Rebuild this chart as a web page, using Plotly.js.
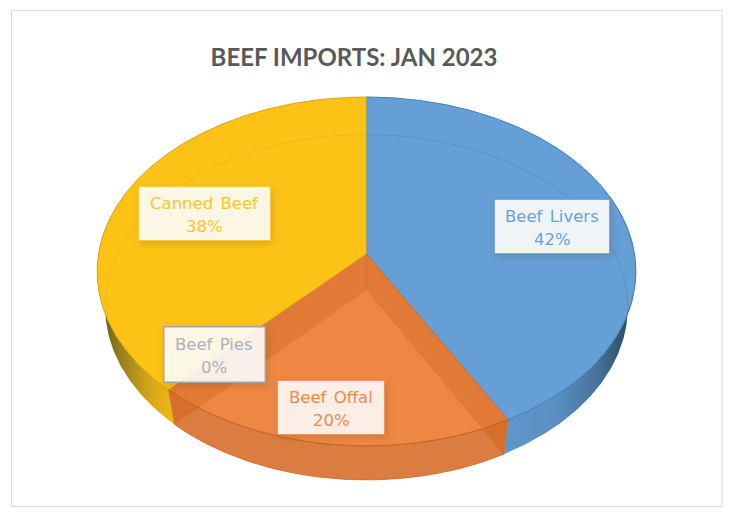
<!DOCTYPE html>
<html>
<head>
<meta charset="utf-8">
<script src="https://cdn.plot.ly/plotly-3.0.1.min.js"></script>
<style>
html,body{margin:0;padding:0;background:#fff}
#chart{width:729px;height:508px}
.annotation text{word-spacing:2px}
.annotation rect.bg{filter:drop-shadow(2px 3px 3px rgba(90,70,40,.22))}
</style>
</head>
<body>
<div id="chart"></div>
<script>
// Beef imports by product, January 2023 (percent of total)
const categories = ['Beef Livers', 'Beef Offal', 'Beef Pies', 'Canned Beef'];
const shares = [42, 20, 0, 38];

const faceColors = ['#659FD6', '#E07A36', '#A5A5A5', '#FDC216'];
const edgeColors = ['#3F7CBA', '#C9651F', '#8C8C8C', '#D9A514'];
const textColors = ['#6A9FDD', '#F08A4B', '#A9B2BC', '#FFC42E'];
const boxColors  = ['rgba(255,255,255,.9)', 'rgba(255,255,255,.88)', 'rgba(255,255,255,.89)', 'rgba(255,255,255,.89)'];

// Tilted disc: projective mapping of the unit circle onto pixel-scaled axes
const topDisc    = {cx: 366.5, cy: 254, a: 268, b: 172.7};
const bottomDisc = {cx: 366.5, cy: 290, a: 260, b: 171};
const tilt = 0.1;

function project(disc, deg) {
  const t = deg * Math.PI / 180;
  const w = 1 + tilt * Math.cos(t);
  return [disc.cx + disc.a * Math.sin(t) / w, disc.cy - disc.b * Math.cos(t) / w];
}
function arc(disc, from, to) {
  const pts = [], n = Math.max(2, Math.ceil(Math.abs(to - from) * 2));
  for (let i = 0; i <= n; i++) pts.push(project(disc, from + (to - from) * i / n));
  return pts;
}
function poly(pts, opts) {
  return Object.assign({
    x: pts.map(p => p[0]), y: pts.map(p => p[1]),
    type: 'scatter', mode: 'lines', fill: 'toself',
    line: {width: 0}, hoverinfo: 'skip', showlegend: false
  }, opts);
}
function stroke(pts, color, width) {
  return {x: pts.map(p => p[0]), y: pts.map(p => p[1]), type: 'scatter', mode: 'lines',
    line: {color: color, width: width}, hoverinfo: 'skip', showlegend: false};
}

// Slice spans in degrees, clockwise from twelve o'clock
const total = shares.reduce((a, b) => a + b, 0);
let running = 0;
const spans = shares.map(v => {
  const s = running; running += v;
  return [s / total * 360, running / total * 360];
});
const [livers, offal, , canned] = spans;

function wall(from, to) {
  return arc(topDisc, from, to).concat(arc(bottomDisc, to, from));
}
function wedge(disc, span) {
  return [[disc.cx, disc.cy]].concat(arc(disc, span[0], span[1]));
}
function gradient(stops, start, stop) {
  return {type: 'horizontal', start: start, stop: stop, colorscale: stops};
}

// Part of the upper offal rim that lies inside the lower offal wedge
function lightFacet() {
  const apex = [bottomDisc.cx, bottomDisc.cy];
  const e1 = project(bottomDisc, offal[0]), e2 = project(bottomDisc, offal[1]);
  const side = (a, b, p) => (b[0]-a[0])*(p[1]-a[1]) - (b[1]-a[1])*(p[0]-a[0]);
  const rim = [];
  for (let d = offal[0] - 10; d <= offal[1] + 10; d += 0.1) {
    const p = project(topDisc, d);
    if (side(apex, e1, p) > 0 && side(apex, e2, p) < 0) rim.push(p);
  }
  return [apex].concat(rim);
}

const traces = [
  // Outer walls
  poly(wall(70, livers[1]), {fillgradient: gradient(
    [[0, '#5F98CF'], [0.45, '#5A8FC2'], [0.75, '#46739C'], [1, '#2E4A63']], 495, 630)}),
  poly(wall(canned[0], 290), {fillgradient: gradient(
    [[0, '#5E5320'], [0.25, '#8E7A1C'], [0.7, '#D6A516'], [1, '#EBB614']], 100, 170)}),
  poly(wall(offal[0], offal[1]), {fillcolor: '#D76F2C'}),
  // Lower offal face showing through the wall
  poly(wedge(bottomDisc, offal), {fillcolor: '#DB7D40', line: {color: '#D06A28', width: 0.6}}),
  // Upper faces
  poly(wedge(topDisc, livers), {fillcolor: faceColors[0], line: {color: edgeColors[0], width: 1}}),
  poly(wedge(topDisc, canned), {fillcolor: faceColors[3], line: {color: edgeColors[3], width: 1}}),
  poly(wedge(topDisc, offal),  {fillcolor: faceColors[1], line: {color: edgeColors[1], width: 1}}),
  poly(lightFacet(), {fillcolor: '#EE8743'}),
  // Lower rim seen through the upper faces
  stroke(arc(bottomDisc, 0, 98), 'rgba(70,125,185,.4)', 1),
  stroke(arc(bottomDisc, 262, 360), 'rgba(226,170,20,.45)', 1),
  stroke([[topDisc.cx, topDisc.cy], [bottomDisc.cx, bottomDisc.cy]], 'rgba(200,100,40,.5)', 1),
  stroke(arc(topDisc, offal[0], offal[1]), edgeColors[1], 1),
  stroke([project(topDisc, offal[1]), project(bottomDisc, offal[1])], '#C9681F', 0.6),
  stroke([project(topDisc, offal[0]), project(bottomDisc, offal[0])], '#C9681F', 0.6)
];

// Label placement: box centre in pixels
const labelBoxes = [
  {cx: 552, cy: 226.5, w: 114, h: 53},
  {cx: 331, cy: 407.5, w: 106, h: 53},
  {cx: 214, cy: 354,   w: 100, h: 54},
  {cx: 204.5, cy: 213.5, w: 131, h: 53}
];
const annotations = [];
categories.forEach((name, i) => {
  const b = labelBoxes[i];
  const base = {xref: 'x', yref: 'y', showarrow: false, xanchor: 'center', yanchor: 'middle'};
  annotations.push(Object.assign({}, base, {
    x: b.cx, y: b.cy, text: ' ', width: b.w, height: b.h, borderpad: 0, borderwidth: i === 2 ? 1.5 : 0.8,
    bordercolor: i === 2 ? '#A6A6A6' : textColors[i], bgcolor: boxColors[i]
  }));
  annotations.push(Object.assign({}, base, {
    x: b.cx, y: b.cy - 10, text: name,
    font: {family: 'DejaVu Sans', size: 16.5, color: textColors[i]}
  }));
  annotations.push(Object.assign({}, base, {
    x: b.cx, y: b.cy + 13, text: shares[i] + '%',
    font: {family: 'DejaVu Sans', size: 16.5, color: textColors[i]}
  }));
});

const layout = {
  width: 729, height: 508,
  margin: {l: 0, r: 0, t: 0, b: 0},
  paper_bgcolor: '#fff', plot_bgcolor: '#fff',
  showlegend: false,
  title: {
    text: 'BEEF IMPORTS: JAN 2023',
    font: {family: 'Lato', size: 24, weight: 700, color: '#595959'},
    x: 354 / 729, xanchor: 'center', xref: 'paper',
    y: 1 - 58 / 508, yanchor: 'middle', yref: 'paper'
  },
  xaxis: {range: [0, 729], visible: false, fixedrange: true},
  yaxis: {range: [508, 0], visible: false, fixedrange: true},
  shapes: [{type: 'rect', xref: 'x', yref: 'y', x0: 11.5, y0: 10.5, x1: 722, y1: 506.5,
    line: {color: '#D9D9D9', width: 1}, fillcolor: 'rgba(0,0,0,0)', layer: 'below'}],
  annotations: annotations
};

Plotly.newPlot('chart', traces, layout, {displayModeBar: false, staticPlot: true});
</script>
</body>
</html>
